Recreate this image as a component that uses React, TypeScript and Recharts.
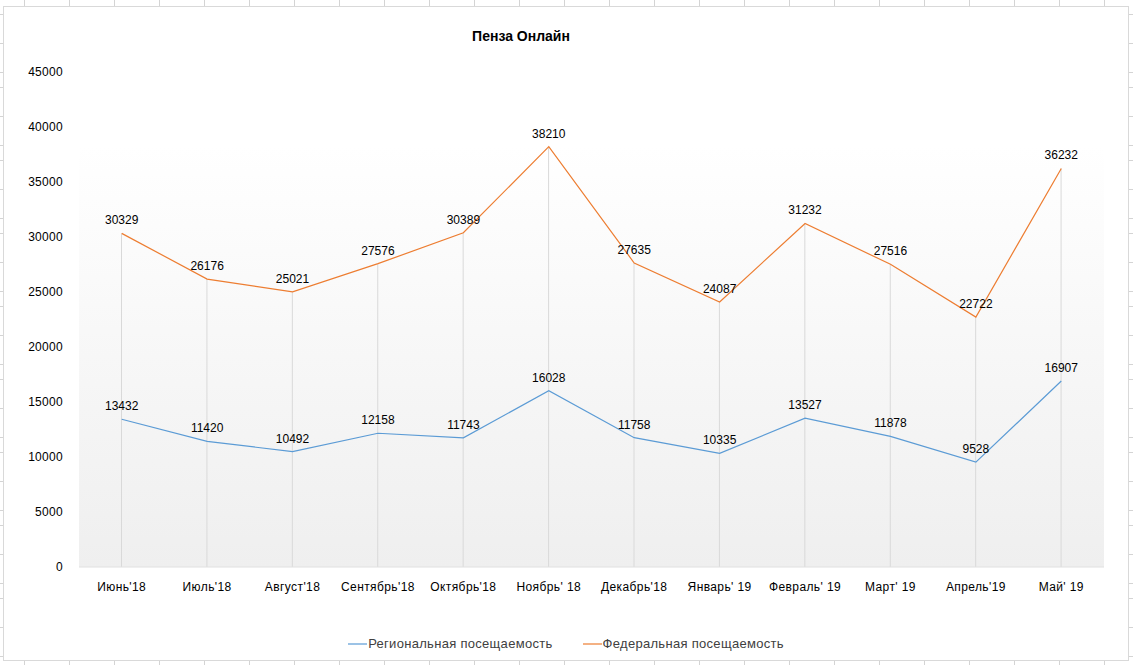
import { ComposedChart, Line, Bar, XAxis, YAxis, CartesianGrid, Legend, LabelList } from 'recharts';

const months = ["Июнь'18", "Июль'18", "Август'18", "Сентябрь'18", "Октябрь'18", "Ноябрь' 18", "Декабрь'18", "Январь' 19", "Февраль' 19", "Март' 19", "Апрель'19", "Май' 19"];
const regional = [13432, 11420, 10492, 12158, 11743, 16028, 11758, 10335, 13527, 11878, 9528, 16907];
const federal = [30329, 26176, 25021, 27576, 30389, 38210, 27635, 24087, 31232, 27516, 22722, 36232];
const yTicks = [0, 5000, 10000, 15000, 20000, 25000, 30000, 35000, 40000, 45000];

const data = months.map((m, i) => ({ month: m, regional: regional[i], federal: federal[i] }));

const font = '"Liberation Sans", Arial, sans-serif';

const legendItems = [
  { name: 'Региональная посещаемость', color: '#5b9bd5' },
  { name: 'Федеральная посещаемость', color: '#ed7d31' },
];

function LegendContent() {
  return (
    <div style={{ display: 'flex', justifyContent: 'center', gap: 30, paddingLeft: 28, fontFamily: font, fontSize: 13, letterSpacing: 0.3, color: '#404040' }}>
      {legendItems.map((it) => (
        <div key={it.name} style={{ display: 'flex', alignItems: 'center' }}>
          <svg width={19} height={10} style={{ marginRight: 1 }}>
            <line x1={0} y1={5} x2={19} y2={5} stroke={it.color} strokeWidth={1.2} />
          </svg>
          <span>{it.name}</span>
        </div>
      ))}
    </div>
  );
}

export default function App() {
  return (
    <div
      style={{
        position: 'absolute',
        left: 0,
        top: 0,
        width: 1133,
        height: 665,
        overflow: 'hidden',
        backgroundColor: '#fff',
        backgroundImage:
          'repeating-linear-gradient(to right, transparent 0, transparent 24px, #d4d4d4 24px, #d4d4d4 25px, transparent 25px, transparent 45px), repeating-linear-gradient(to bottom, transparent 0, transparent 14px, #d4d4d4 14px, #d4d4d4 14.6px)',
      }}
    >
      <div style={{ position: 'absolute', left: 3, top: 6, width: 1124, height: 653, background: '#fff', border: '1px solid #d9d9d9' }} />
      <div style={{ position: 'absolute', left: 0, top: 0 }}>
        <ComposedChart width={1133} height={665} data={data} margin={{ top: 72, right: 29, bottom: 9, left: 0 }}>
          <defs>
            <linearGradient id="plotBg" x1="0" y1="0" x2="0" y2="1">
              <stop offset="0%" stopColor="#ffffff" />
              <stop offset="15%" stopColor="#ffffff" />
              <stop offset="100%" stopColor="#efefef" />
            </linearGradient>
          </defs>
          <CartesianGrid horizontal={false} vertical={false} fill="url(#plotBg)" stroke="none" />
          <XAxis
            dataKey="month"
            height={69}
            tickLine={false}
            axisLine={{ stroke: '#e0e0e0' }}
            tickMargin={9}
            tick={{ fontSize: 12, fill: '#000', fontFamily: font, letterSpacing: 0.4 }}
            interval={0}
          />
          <YAxis
            width={79}
            domain={[0, 45000]}
            ticks={yTicks}
            axisLine={false}
            tickLine={false}
            tickMargin={10}
            tick={{ fontSize: 12, fill: '#000', fontFamily: font, letterSpacing: 0.3 }}
          />
          <Bar dataKey="federal" barSize={1} fill="#d9d9d9" isAnimationActive={false} legendType="none" />
          <Line
            dataKey="regional"
            name="Региональная посещаемость"
            stroke="#5b9bd5"
            strokeWidth={1.2}
            dot={false}
            type="linear"
            isAnimationActive={false}
          >
            <LabelList dataKey="regional" position="top" offset={9} style={{ fontSize: 12, fill: '#000', fontFamily: font }} />
          </Line>
          <Line
            dataKey="federal"
            name="Федеральная посещаемость"
            stroke="#ed7d31"
            strokeWidth={1.2}
            dot={false}
            type="linear"
            isAnimationActive={false}
          >
            <LabelList dataKey="federal" position="top" offset={9} style={{ fontSize: 12, fill: '#000', fontFamily: font }} />
          </Line>
          <Legend verticalAlign="bottom" height={20} content={<LegendContent />} />
        </ComposedChart>
      </div>
      <div
        style={{
          position: 'absolute',
          left: 421,
          width: 200,
          top: 28,
          textAlign: 'center',
          fontFamily: font,
          fontSize: 14,
          fontWeight: 'bold',
          color: '#000',
        }}
      >
        Пенза Онлайн
      </div>
    </div>
  );
}
